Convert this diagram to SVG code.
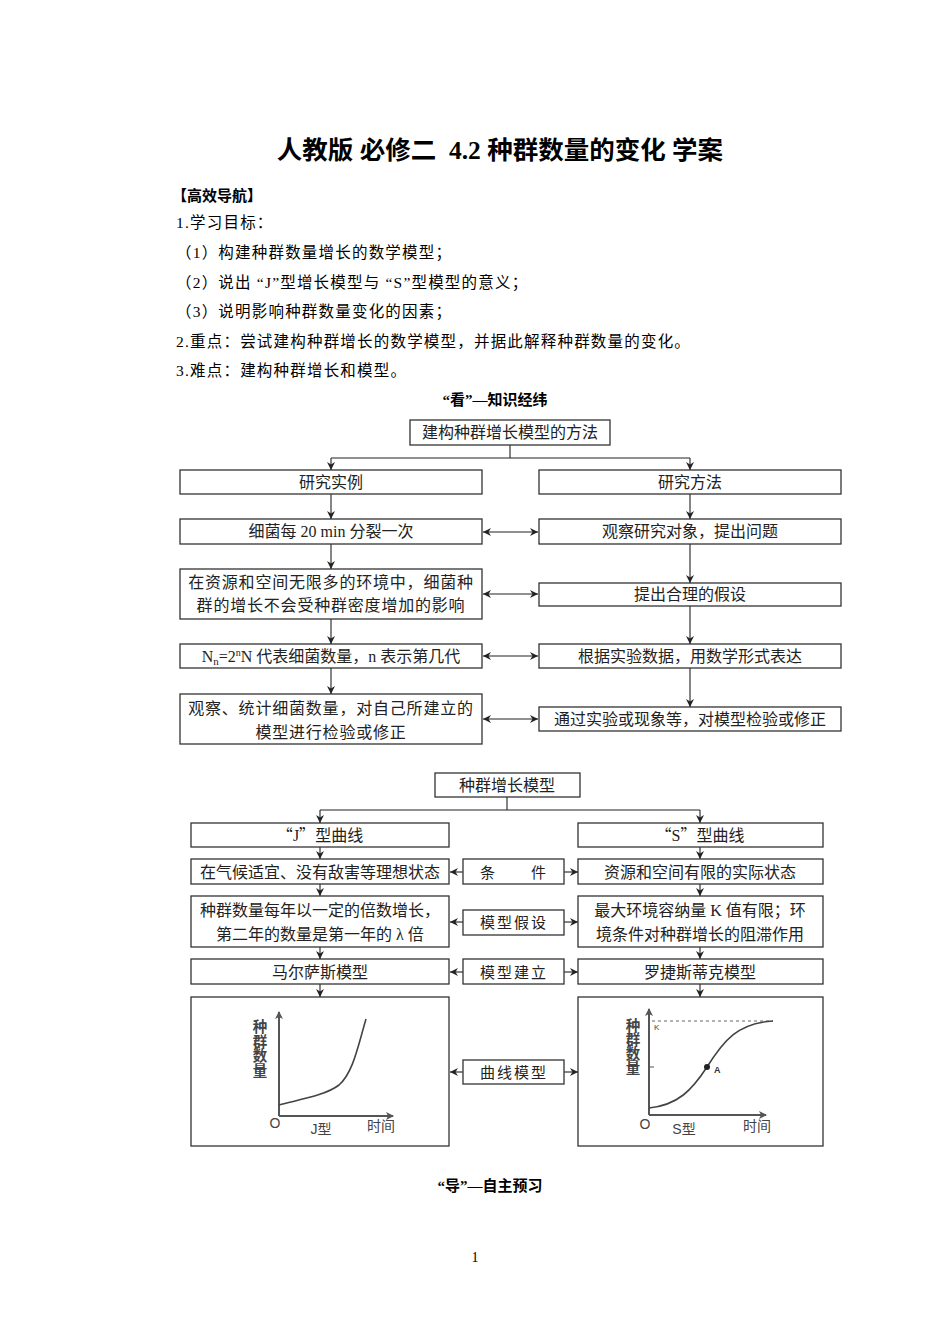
<svg xmlns="http://www.w3.org/2000/svg" width="950" height="1344" viewBox="0 0 950 1344">
<style>
.bg{fill:#fff}
.t{font-family:"Liberation Serif","Noto Sans CJK SC",serif;font-size:15.5px;letter-spacing:1.2px;fill:#000}
.h{font-family:"Liberation Serif","Noto Sans CJK SC",sans-serif;font-weight:bold;font-size:15px;fill:#000}
.title{font-family:"Liberation Serif","Noto Sans CJK SC",sans-serif;font-weight:bold;font-size:25.5px;fill:#000}
.box{fill:#fff;stroke:#333;stroke-width:1.3}
.bt{font-family:"Liberation Serif","Noto Sans CJK SC",sans-serif;font-size:16px;fill:#222;text-anchor:middle}
.q{font-family:"Noto Sans CJK SC",sans-serif}
.mt{font-family:"Liberation Serif","Noto Sans CJK SC",sans-serif;font-size:15px;letter-spacing:2px;fill:#222;text-anchor:middle}
.ln{fill:none;stroke:#222;stroke-width:1.1}
.ax{fill:none;stroke:#555;stroke-width:2}
.cv{fill:none;stroke:#444;stroke-width:1.6}
.gl{font-family:"Liberation Sans","Noto Sans CJK SC",sans-serif;font-weight:bold;font-size:14.5px;fill:#444;text-anchor:middle}
.gs{font-family:"Liberation Sans","Noto Sans CJK SC",sans-serif;font-size:14px;fill:#444;text-anchor:middle}
</style>
<defs>
<marker id="ah" markerUnits="userSpaceOnUse" markerWidth="8" markerHeight="8" refX="8" refY="4" orient="auto-start-reverse">
<path d="M0,0 L8,4 L0,8 L2.5,4 Z" fill="#222"/>
</marker>
<marker id="ag" markerUnits="userSpaceOnUse" markerWidth="8" markerHeight="8" refX="7" refY="4" orient="auto">
<path d="M0,0 L8,4 L0,8 L2,4 Z" fill="#555"/>
</marker>
</defs>
<rect class="bg" x="0" y="0" width="950" height="1344"/>

<g id="header">
<text class="title" x="500" y="159" text-anchor="middle" xml:space="preserve">人教版 必修二  4.2 种群数量的变化 学案</text>
<text class="h" x="172" y="201">【高效导航】</text>
<text class="t" x="176" y="228">1.学习目标：</text>
<text class="t" x="176" y="258">（1）构建种群数量增长的数学模型；</text>
<text class="t" x="176" y="288" xml:space="preserve">（2）说出 “J”型增长模型与 “S”型模型的意义；</text>
<text class="t" x="176" y="317">（3）说明影响种群数量变化的因素；</text>
<text class="t" x="176" y="347">2.重点：尝试建构种群增长的数学模型，并据此解释种群数量的变化。</text>
<text class="t" x="176" y="376">3.难点：建构种群增长和模型。</text>
<text class="h" x="495" y="405" text-anchor="middle">“看”—知识经纬</text>
</g>

<g id="connectors">
<path class="ln" d="M510,445 V458 M331,458 H690"/>
<path class="ln" d="M331,458 V470" marker-end="url(#ah)"/>
<path class="ln" d="M690,458 V470" marker-end="url(#ah)"/>
<path class="ln" d="M331,494 V519" marker-end="url(#ah)"/>
<path class="ln" d="M331,544 V569" marker-end="url(#ah)"/>
<path class="ln" d="M331,619 V644" marker-end="url(#ah)"/>
<path class="ln" d="M331,668 V694" marker-end="url(#ah)"/>
<path class="ln" d="M690,494 V519" marker-end="url(#ah)"/>
<path class="ln" d="M690,544 V583" marker-end="url(#ah)"/>
<path class="ln" d="M690,606 V644" marker-end="url(#ah)"/>
<path class="ln" d="M690,668 V707" marker-end="url(#ah)"/>
<path class="ln" d="M483,532 H538" marker-start="url(#ah)" marker-end="url(#ah)"/>
<path class="ln" d="M483,594 H538" marker-start="url(#ah)" marker-end="url(#ah)"/>
<path class="ln" d="M483,656 H538" marker-start="url(#ah)" marker-end="url(#ah)"/>
<path class="ln" d="M483,719 H538" marker-start="url(#ah)" marker-end="url(#ah)"/>

<path class="ln" d="M507,797 V810 M320,810 H700"/>
<path class="ln" d="M320,810 V823" marker-end="url(#ah)"/>
<path class="ln" d="M700,810 V823" marker-end="url(#ah)"/>
<path class="ln" d="M320,847 V859" marker-end="url(#ah)"/>
<path class="ln" d="M320,884 V896" marker-end="url(#ah)"/>
<path class="ln" d="M320,947 V959" marker-end="url(#ah)"/>
<path class="ln" d="M320,984 V997" marker-end="url(#ah)"/>
<path class="ln" d="M700,847 V859" marker-end="url(#ah)"/>
<path class="ln" d="M700,884 V896" marker-end="url(#ah)"/>
<path class="ln" d="M700,947 V959" marker-end="url(#ah)"/>
<path class="ln" d="M700,984 V997" marker-end="url(#ah)"/>
<path class="ln" d="M463,872 H450" marker-end="url(#ah)"/>
<path class="ln" d="M564,872 H578" marker-end="url(#ah)"/>
<path class="ln" d="M463,922 H450" marker-end="url(#ah)"/>
<path class="ln" d="M564,922 H578" marker-end="url(#ah)"/>
<path class="ln" d="M463,972 H450" marker-end="url(#ah)"/>
<path class="ln" d="M564,972 H578" marker-end="url(#ah)"/>
<path class="ln" d="M463,1072 H450" marker-end="url(#ah)"/>
<path class="ln" d="M564,1072 H578" marker-end="url(#ah)"/>
</g>

<g id="n-method"><rect class="box" x="410" y="420" width="200" height="25"/><text class="bt" x="510" y="438">建构种群增长模型的方法</text></g>
<g id="n-case"><rect class="box" x="180" y="470" width="302" height="24"/><text class="bt" x="331" y="488">研究实例</text></g>
<g id="n-way"><rect class="box" x="539" y="470" width="302" height="24"/><text class="bt" x="690" y="488">研究方法</text></g>
<g id="n-l2"><rect class="box" x="180" y="519" width="302" height="25"/><text class="bt" x="331" y="537">细菌每 20 min 分裂一次</text></g>
<g id="n-r2"><rect class="box" x="539" y="519" width="302" height="25"/><text class="bt" x="690" y="537">观察研究对象，提出问题</text></g>
<g id="n-l3"><rect class="box" x="180" y="569" width="302" height="50"/><text class="bt" x="331" y="588" letter-spacing="0.8">在资源和空间无限多的环境中，细菌种</text><text class="bt" x="331" y="611" letter-spacing="0.8">群的增长不会受种群密度增加的影响</text></g>
<g id="n-r3"><rect class="box" x="539" y="583" width="302" height="23"/><text class="bt" x="690" y="600">提出合理的假设</text></g>
<g id="n-l4"><rect class="box" x="180" y="644" width="302" height="24"/><text class="bt" x="331" y="662">N<tspan font-size="11" dy="3">n</tspan><tspan dy="-3">=2</tspan><tspan font-size="10" dy="-6">n</tspan><tspan dy="6">N 代表细菌数量，n 表示第几代</tspan></text></g>
<g id="n-r4"><rect class="box" x="539" y="644" width="302" height="24"/><text class="bt" x="690" y="662">根据实验数据，用数学形式表达</text></g>
<g id="n-l5"><rect class="box" x="180" y="694" width="302" height="50"/><text class="bt" x="331" y="714" letter-spacing="0.8">观察、统计细菌数量，对自己所建立的</text><text class="bt" x="331" y="738" letter-spacing="0.8">模型进行检验或修正</text></g>
<g id="n-r5"><rect class="box" x="539" y="707" width="302" height="24"/><text class="bt" x="690" y="725">通过实验或现象等，对模型检验或修正</text></g>

<g id="n-model"><rect class="box" x="435" y="773" width="145" height="24"/><text class="bt" x="507" y="791">种群增长模型</text></g>
<g id="n-j"><rect class="box" x="191" y="823" width="258" height="24"/><text class="bt" x="320" y="841"><tspan class="q">“</tspan>J<tspan class="q">”</tspan>型曲线</text></g>
<g id="n-s"><rect class="box" x="578" y="823" width="245" height="24"/><text class="bt" x="700" y="841"><tspan class="q">“</tspan>S<tspan class="q">”</tspan>型曲线</text></g>
<g id="n-jc"><rect class="box" x="191" y="859" width="258" height="25"/><text class="bt" x="320" y="878">在气候适宜、没有敌害等理想状态</text></g>
<g id="n-cond"><rect class="box" x="463" y="859" width="101" height="25"/><text class="mt" x="514" y="878">条　　件</text></g>
<g id="n-sc"><rect class="box" x="578" y="859" width="245" height="25"/><text class="bt" x="700" y="878">资源和空间有限的实际状态</text></g>
<g id="n-jh"><rect class="box" x="191" y="896" width="258" height="51"/><text class="bt" x="320" y="916">种群数量每年以一定的倍数增长，</text><text class="bt" x="320" y="940">第二年的数量是第一年的 λ 倍</text></g>
<g id="n-hyp"><rect class="box" x="463" y="910" width="101" height="25"/><text class="mt" x="514" y="928">模型假设</text></g>
<g id="n-sh"><rect class="box" x="578" y="896" width="245" height="51"/><text class="bt" x="700" y="916">最大环境容纳量 K 值有限；环</text><text class="bt" x="700" y="940">境条件对种群增长的阻滞作用</text></g>
<g id="n-jm"><rect class="box" x="191" y="959" width="258" height="25"/><text class="bt" x="320" y="978">马尔萨斯模型</text></g>
<g id="n-build"><rect class="box" x="463" y="959" width="101" height="25"/><text class="mt" x="514" y="978">模型建立</text></g>
<g id="n-sm"><rect class="box" x="578" y="959" width="245" height="25"/><text class="bt" x="700" y="978">罗捷斯蒂克模型</text></g>
<g id="n-curve"><rect class="box" x="463" y="1060" width="101" height="24"/><text class="mt" x="514" y="1078">曲线模型</text></g>

<g id="n-jgraph">
<rect class="box" x="191" y="997" width="258" height="149"/>
<path class="ax" d="M279,1116 V1012" marker-end="url(#ag)"/>
<path class="ax" d="M279,1116 H393" marker-end="url(#ag)"/>
<path class="cv" d="M279,1105 C302,1099 326,1095 339,1085 C353,1073 358,1046 366,1019"/>
<text class="gl"><tspan x="260" y="1032">种</tspan><tspan x="260" dy="14.5">群</tspan><tspan x="260" dy="14.5">数</tspan><tspan x="260" dy="14.5">量</tspan></text>
<text class="gs" x="275" y="1128">O</text>
<text class="gs" x="321" y="1134">J型</text>
<text class="gs" x="381" y="1131">时间</text>
</g>

<g id="n-sgraph">
<rect class="box" x="578" y="997" width="245" height="149"/>
<path class="ax" d="M649,1115 V1009" marker-end="url(#ag)"/>
<path class="ax" d="M649,1115 H766" marker-end="url(#ag)"/>
<path d="M652,1021 H773" fill="none" stroke="#666" stroke-width="1" stroke-dasharray="3,3"/>
<path d="M649,1067 H654" stroke="#555" stroke-width="1"/>
<path class="cv" d="M649,1108 C678,1105 692,1090 707,1067 C724,1040 738,1023 773,1021"/>
<circle cx="707" cy="1067" r="3" fill="#222"/>
<text x="654" y="1030" font-family="Liberation Sans,sans-serif" font-size="8" fill="#444">K</text>
<text x="714" y="1073" font-family="Liberation Sans,sans-serif" font-size="9" font-weight="bold" fill="#333">A</text>
<text class="gl"><tspan x="633" y="1031">种</tspan><tspan x="633" dy="14">群</tspan><tspan x="633" dy="14">数</tspan><tspan x="633" dy="14">量</tspan></text>
<text class="gs" x="645" y="1129">O</text>
<text class="gs" x="684" y="1134">S型</text>
<text class="gs" x="757" y="1131">时间</text>
</g>

<g id="footer">
<text class="h" x="490" y="1191" text-anchor="middle">“导”—自主预习</text>
<text x="475" y="1262" font-family="Liberation Serif,serif" font-size="14" text-anchor="middle">1</text>
</g>
</svg>
